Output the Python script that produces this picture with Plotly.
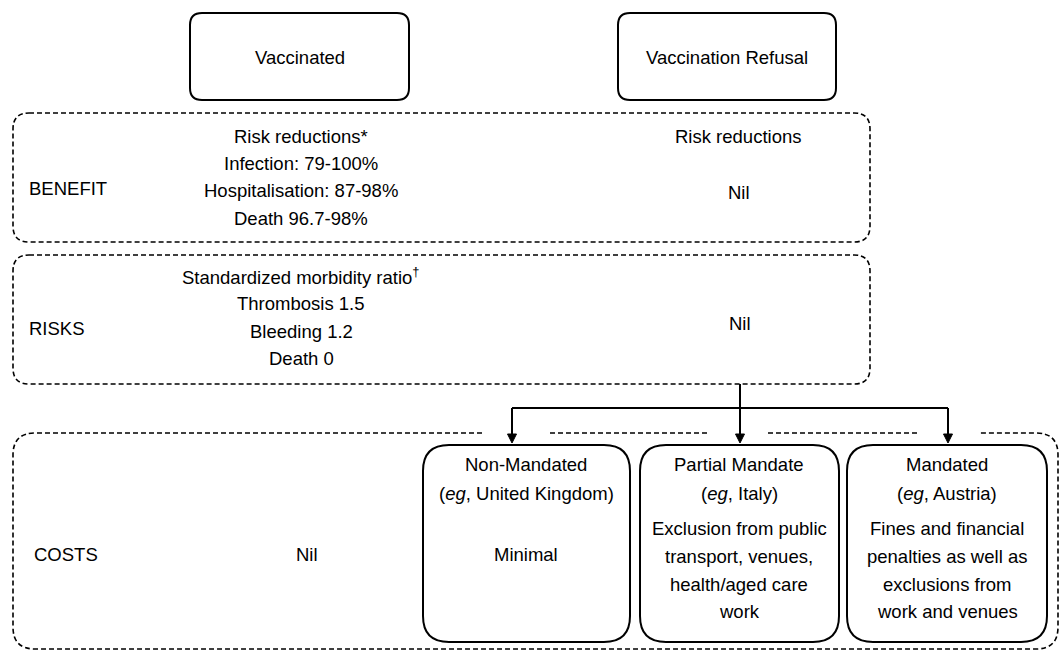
import plotly.graph_objects as go

W, H = 1061, 651
FONT = "Liberation Sans, Arial, Helvetica, sans-serif"
FS = 18.5

# ---- content ----
top_labels = ["Vaccinated", "Vaccination Refusal"]
row_labels = ["BENEFIT", "RISKS", "COSTS"]
benefit_vacc = ["Risk reductions*", "Infection: 79-100%", "Hospitalisation: 87-98%", "Death 96.7-98%"]
benefit_refusal = ["Risk reductions", "Nil"]
risks_vacc = ["Standardized morbidity ratio<sup>†</sup>", "Thrombosis 1.5", "Bleeding 1.2", "Death 0"]
risks_refusal = ["Nil"]
costs_vacc = ["Nil"]
mandate_titles = ["Non-Mandated", "Partial Mandate", "Mandated"]
mandate_examples = ["(<i>eg</i>, United Kingdom)", "(<i>eg</i>, Italy)", "(<i>eg</i>, Austria)"]
mandate_costs = [
    ["Minimal"],
    ["Exclusion from public", "transport, venues,", "health/aged care", "work"],
    ["Fines and financial", "penalties as well as", "exclusions from", "work and venues"],
]

# ---- geometry ----
def rrect(x0, y0, x1, y1, r):
    return (f"M {x0+r},{y0} L {x1-r},{y0} Q {x1},{y0} {x1},{y0+r} "
            f"L {x1},{y1-r} Q {x1},{y1} {x1-r},{y1} L {x0+r},{y1} "
            f"Q {x0},{y1} {x0},{y1-r} L {x0},{y0+r} Q {x0},{y0} {x0+r},{y0} Z")

solid = dict(color="black", width=2)
dashed = dict(color="black", width=1.6, dash="5px,3px")

shapes = []
# top boxes
top_boxes = [(190, 13, 409, 100), (618, 13, 836, 100)]
for b in top_boxes:
    shapes.append(dict(type="path", path=rrect(*b, 12), line=solid, xref="x", yref="y"))
# benefit / risks dashed boxes
for b in [(13, 113, 870, 242), (13, 255, 870, 384)]:
    shapes.append(dict(type="path", path=rrect(*b, 16), line=dashed, xref="x", yref="y"))
# costs dashed open box
cx0, cy0, cx1, cy1, cr = 13, 433, 1058, 649, 22
costs_path = (f"M 482,{cy0} L {cx0+cr},{cy0} Q {cx0},{cy0} {cx0},{cy0+cr} "
              f"L {cx0},{cy1-cr} Q {cx0},{cy1} {cx0+cr},{cy1} L {cx1-cr},{cy1} "
              f"Q {cx1},{cy1} {cx1},{cy1-cr} L {cx1},{cy0+cr} Q {cx1},{cy0} {cx1-cr},{cy0} L 978,{cy0}")
shapes.append(dict(type="path", path=costs_path, line=dashed, xref="x", yref="y"))
for a, b in [(550, 710), (768, 917)]:
    shapes.append(dict(type="line", x0=a, x1=b, y0=cy0, y1=cy0, line=dashed, xref="x", yref="y"))
# mandate boxes
mand_boxes = [(423, 445, 630, 642), (640, 445, 839, 642), (847, 445, 1047, 642)]
for b in mand_boxes:
    shapes.append(dict(type="path", path=rrect(*b, 26), line=solid, xref="x", yref="y"))
# connector lines and arrows
arrow_x = [512, 740, 948]
shapes.append(dict(type="line", x0=740, x1=740, y0=384, y1=408, line=solid, xref="x", yref="y"))
shapes.append(dict(type="line", x0=arrow_x[0], x1=arrow_x[-1], y0=408, y1=408, line=solid, xref="x", yref="y"))
for ax_ in arrow_x:
    shapes.append(dict(type="line", x0=ax_, x1=ax_, y0=408, y1=436, line=solid, xref="x", yref="y"))
    shapes.append(dict(type="path", path=f"M {ax_-4.5},434 L {ax_+4.5},434 L {ax_},443 Z",
                       line=dict(color="black", width=1), fillcolor="black", xref="x", yref="y"))

ann = []
def txt(x, y, s, anchor="center"):
    ann.append(dict(x=x, y=y, text=s, showarrow=False, xanchor=anchor, yanchor="middle",
                    font=dict(family=FONT, size=FS, color="black"), xref="x", yref="y"))

# top labels
txt(300, 57, top_labels[0])
txt(727, 57, top_labels[1])
# row labels
txt(27, 188, row_labels[0], "left")
txt(27, 328, row_labels[1], "left")
txt(32, 554, row_labels[2], "left")
# benefit
for s, y in zip(benefit_vacc, [136, 163, 190, 218]):
    txt(301, y, s)
txt(738, 136, benefit_refusal[0])
txt(739, 192, benefit_refusal[1])
# risks
for s, y in zip(risks_vacc, [276, 303, 331, 358]):
    txt(301, y, s)
txt(740, 323, risks_refusal[0])
# costs
txt(307, 554, costs_vacc[0])
centers = [526, 739, 947]
for i, c in enumerate(centers):
    txt(c, 464, mandate_titles[i])
    txt(c, 493, mandate_examples[i])
    lines = mandate_costs[i]
    if len(lines) == 1:
        txt(c, 554, lines[0])
    else:
        for s, y in zip(lines, [528, 556, 584, 611]):
            txt(c, y, s)

fig = go.Figure()
fig.update_layout(
    width=W, height=H, margin=dict(l=0, r=0, t=0, b=0),
    paper_bgcolor="white", plot_bgcolor="white",
    xaxis=dict(range=[0, W], visible=False, fixedrange=True),
    yaxis=dict(range=[H, 0], visible=False, fixedrange=True),
    shapes=shapes, annotations=ann, showlegend=False,
)
fig.write_html("out.html", config={"displayModeBar": False},
               post_script="document.body.style.margin='0';document.body.style.overflow='hidden';")
